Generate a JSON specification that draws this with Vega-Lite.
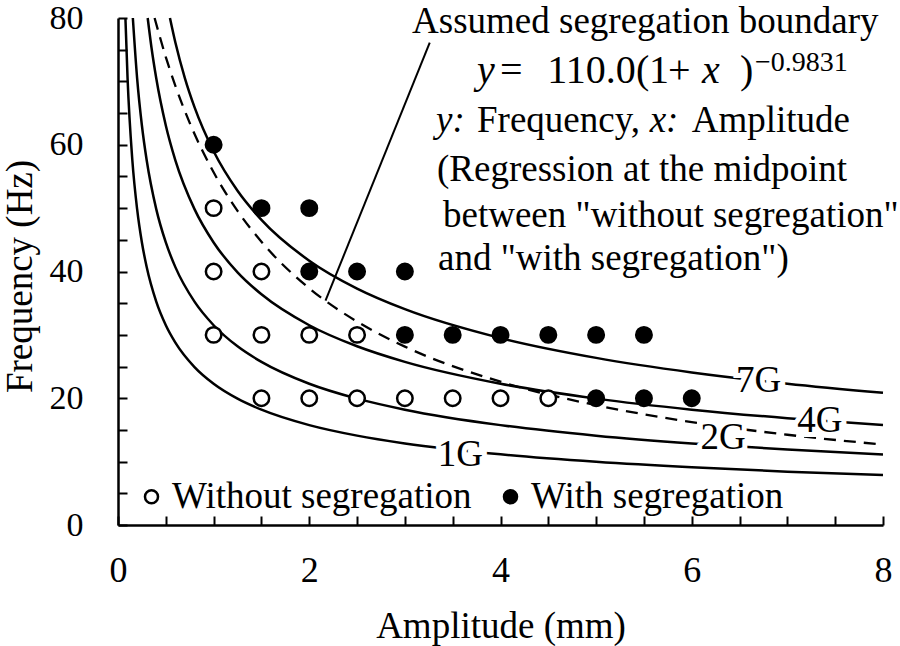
{
  "$schema": "https://vega.github.io/schema/vega-lite/v6.json",
  "width": 765,
  "height": 507,
  "autosize": {"type": "none"},
  "padding": {"left": 118, "top": 18, "right": 17, "bottom": 121},
  "background": "white",
  "config": {
    "font": "Liberation Serif",
    "view": {"stroke": null},
    "axis": {
      "grid": false,
      "domainColor": "black",
      "domainWidth": 2.5,
      "tickColor": "black",
      "tickWidth": 2,
      "labelColor": "black",
      "titleColor": "black",
      "labelFont": "Liberation Serif",
      "titleFont": "Liberation Serif",
      "labelFontSize": 36,
      "titleFontSize": 37,
      "titleFontWeight": "normal",
      "labelOverlap": false,
      "labelFlush": false
    },
    "text": {"font": "Liberation Serif", "color": "black"}
  },
  "datasets": {
    "gcurves": [
      {"curve": "1G", "x": 0.0776, "y": 80},
      {"curve": "1G", "x": 0.1, "y": 70.49},
      {"curve": "1G", "x": 0.15, "y": 57.55},
      {"curve": "1G", "x": 0.2, "y": 49.84},
      {"curve": "1G", "x": 0.25, "y": 44.58},
      {"curve": "1G", "x": 0.3, "y": 40.7},
      {"curve": "1G", "x": 0.4, "y": 35.24},
      {"curve": "1G", "x": 0.5, "y": 31.52},
      {"curve": "1G", "x": 0.6, "y": 28.78},
      {"curve": "1G", "x": 0.8, "y": 24.92},
      {"curve": "1G", "x": 1, "y": 22.29},
      {"curve": "1G", "x": 1.25, "y": 19.94},
      {"curve": "1G", "x": 1.5, "y": 18.2},
      {"curve": "1G", "x": 2, "y": 15.76},
      {"curve": "1G", "x": 2.5, "y": 14.1},
      {"curve": "1G", "x": 3, "y": 12.87},
      {"curve": "1G", "x": 4, "y": 11.15},
      {"curve": "1G", "x": 5, "y": 9.97},
      {"curve": "1G", "x": 6, "y": 9.1},
      {"curve": "1G", "x": 7, "y": 8.42},
      {"curve": "1G", "x": 8, "y": 7.88},
      {"curve": "2G", "x": 0.1552, "y": 80},
      {"curve": "2G", "x": 0.2, "y": 70.48},
      {"curve": "2G", "x": 0.25, "y": 63.04},
      {"curve": "2G", "x": 0.3, "y": 57.55},
      {"curve": "2G", "x": 0.4, "y": 49.84},
      {"curve": "2G", "x": 0.5, "y": 44.58},
      {"curve": "2G", "x": 0.6, "y": 40.69},
      {"curve": "2G", "x": 0.8, "y": 35.24},
      {"curve": "2G", "x": 1, "y": 31.52},
      {"curve": "2G", "x": 1.25, "y": 28.19},
      {"curve": "2G", "x": 1.5, "y": 25.74},
      {"curve": "2G", "x": 2, "y": 22.29},
      {"curve": "2G", "x": 2.5, "y": 19.94},
      {"curve": "2G", "x": 3, "y": 18.2},
      {"curve": "2G", "x": 4, "y": 15.76},
      {"curve": "2G", "x": 5, "y": 14.1},
      {"curve": "2G", "x": 6, "y": 12.87},
      {"curve": "2G", "x": 7, "y": 11.91},
      {"curve": "2G", "x": 8, "y": 11.14},
      {"curve": "4G", "x": 0.3105, "y": 80},
      {"curve": "4G", "x": 0.35, "y": 75.35},
      {"curve": "4G", "x": 0.4, "y": 70.49},
      {"curve": "4G", "x": 0.5, "y": 63.05},
      {"curve": "4G", "x": 0.6, "y": 57.55},
      {"curve": "4G", "x": 0.8, "y": 49.84},
      {"curve": "4G", "x": 1, "y": 44.58},
      {"curve": "4G", "x": 1.25, "y": 39.87},
      {"curve": "4G", "x": 1.5, "y": 36.4},
      {"curve": "4G", "x": 2, "y": 31.52},
      {"curve": "4G", "x": 2.5, "y": 28.2},
      {"curve": "4G", "x": 3, "y": 25.74},
      {"curve": "4G", "x": 4, "y": 22.29},
      {"curve": "4G", "x": 5, "y": 19.94},
      {"curve": "4G", "x": 6, "y": 18.2},
      {"curve": "4G", "x": 7, "y": 16.85},
      {"curve": "4G", "x": 8, "y": 15.76},
      {"curve": "7G", "x": 0.5433, "y": 80},
      {"curve": "7G", "x": 0.6, "y": 76.13},
      {"curve": "7G", "x": 0.7, "y": 70.48},
      {"curve": "7G", "x": 0.8, "y": 65.93},
      {"curve": "7G", "x": 1, "y": 58.97},
      {"curve": "7G", "x": 1.25, "y": 52.74},
      {"curve": "7G", "x": 1.5, "y": 48.15},
      {"curve": "7G", "x": 2, "y": 41.7},
      {"curve": "7G", "x": 2.5, "y": 37.3},
      {"curve": "7G", "x": 3, "y": 34.05},
      {"curve": "7G", "x": 4, "y": 29.49},
      {"curve": "7G", "x": 5, "y": 26.37},
      {"curve": "7G", "x": 6, "y": 24.07},
      {"curve": "7G", "x": 7, "y": 22.29},
      {"curve": "7G", "x": 8, "y": 20.85}
    ],
    "boundary": [
      {"x": 0.3826, "y": 80},
      {"x": 0.5, "y": 73.84},
      {"x": 0.6, "y": 69.3},
      {"x": 0.75, "y": 63.45},
      {"x": 1, "y": 55.65},
      {"x": 1.25, "y": 49.56},
      {"x": 1.5, "y": 44.69},
      {"x": 2, "y": 37.35},
      {"x": 2.5, "y": 32.1},
      {"x": 3, "y": 28.15},
      {"x": 4, "y": 22.61},
      {"x": 5, "y": 18.9},
      {"x": 6, "y": 16.24},
      {"x": 7, "y": 14.24},
      {"x": 8, "y": 12.69}
    ],
    "points": [
      {"status": "Without segregation", "x": 1, "y": 30},
      {"status": "Without segregation", "x": 1, "y": 40},
      {"status": "Without segregation", "x": 1, "y": 50},
      {"status": "Without segregation", "x": 1.5, "y": 20},
      {"status": "Without segregation", "x": 1.5, "y": 30},
      {"status": "Without segregation", "x": 1.5, "y": 40},
      {"status": "Without segregation", "x": 2, "y": 20},
      {"status": "Without segregation", "x": 2, "y": 30},
      {"status": "Without segregation", "x": 2.5, "y": 20},
      {"status": "Without segregation", "x": 2.5, "y": 30},
      {"status": "Without segregation", "x": 3, "y": 20},
      {"status": "Without segregation", "x": 3.5, "y": 20},
      {"status": "Without segregation", "x": 4, "y": 20},
      {"status": "Without segregation", "x": 4.5, "y": 20},
      {"status": "With segregation", "x": 1, "y": 60},
      {"status": "With segregation", "x": 1.5, "y": 50},
      {"status": "With segregation", "x": 2, "y": 40},
      {"status": "With segregation", "x": 2, "y": 50},
      {"status": "With segregation", "x": 2.5, "y": 40},
      {"status": "With segregation", "x": 3, "y": 30},
      {"status": "With segregation", "x": 3, "y": 40},
      {"status": "With segregation", "x": 3.5, "y": 30},
      {"status": "With segregation", "x": 4, "y": 30},
      {"status": "With segregation", "x": 4.5, "y": 30},
      {"status": "With segregation", "x": 5, "y": 20},
      {"status": "With segregation", "x": 5, "y": 30},
      {"status": "With segregation", "x": 5.5, "y": 20},
      {"status": "With segregation", "x": 5.5, "y": 30},
      {"status": "With segregation", "x": 6, "y": 20}
    ],
    "glabels": [
      {"text": "7G", "x": 6.698, "y": 22.68},
      {"text": "4G", "x": 7.34, "y": 16.38},
      {"text": "2G", "x": 6.327, "y": 13.7},
      {"text": "1G", "x": 3.58, "y": 11.02}
    ],
    "leader": [
      {"x": 3.26, "y": 76.1, "x2": 2.17, "y2": 35.4}
    ],
    "notes": [
      {"text": "Assumed segregation boundary", "x": 3.075, "y": 77.64},
      {"text": "Frequency,", "x": 3.754, "y": 61.94},
      {"text": "Amplitude", "x": 6.0, "y": 61.94},
      {"text": "(Regression at the midpoint", "x": 3.336, "y": 54.33},
      {"text": "between \"without segregation\"", "x": 3.399, "y": 46.98},
      {"text": "and \"with segregation\")", "x": 3.346, "y": 40.16}
    ],
    "notesItalic": [
      {"text": "y:", "x": 3.325, "y": 61.94},
      {"text": "x:", "x": 5.56, "y": 61.94}
    ],
    "eqItalic": [
      {"text": "y", "x": 3.754, "y": 69.76},
      {"text": "x", "x": 6.107, "y": 69.76}
    ],
    "eqRegular": [
      {"text": "=", "x": 3.995, "y": 69.76},
      {"text": "110.0", "x": 4.49, "y": 69.76},
      {"text": "(", "x": 5.417, "y": 69.76},
      {"text": "1", "x": 5.553, "y": 69.76},
      {"text": "+", "x": 5.752, "y": 69.76},
      {"text": ")", "x": 6.505, "y": 69.76}
    ],
    "eqExponent": [
      {"text": "−0.9831", "x": 6.662, "y": 71.65}
    ]
  },
  "encoding": {
    "x": {
      "field": "x",
      "type": "quantitative",
      "scale": {"domain": [0, 8], "nice": false, "zero": false},
      "axis": {
        "title": "Amplitude (mm)",
        "values": [0, 0.5, 1, 1.5, 2, 2.5, 3, 3.5, 4, 4.5, 5, 5.5, 6, 6.5, 7, 7.5, 8],
        "format": "~g",
        "labelExpr": "datum.value % 2 === 0 ? datum.label : ''",
        "tickSize": -9,
        "labelPadding": 37,
        "titleY": 112,
        "titleBaseline": "alphabetic"
      }
    },
    "y": {
      "field": "y",
      "type": "quantitative",
      "scale": {"domain": [0, 80], "nice": false},
      "axis": {
        "title": "Frequency (Hz)",
        "values": [0, 5, 10, 15, 20, 25, 30, 35, 40, 45, 50, 55, 60, 65, 70, 75, 80],
        "format": "~g",
        "labelExpr": "datum.value % 20 === 0 ? datum.label : ''",
        "labelFontSize": 34,
        "tickSize": -9,
        "labelPadding": 44,
        "titleX": -98,
        "titleY": 258,
        "titleBaseline": "middle"
      }
    }
  },
  "layer": [
    {
      "data": {"name": "gcurves"},
      "mark": {"type": "line", "color": "black", "strokeWidth": 2.5, "interpolate": "monotone"},
      "encoding": {"detail": {"field": "curve", "type": "nominal"}}
    },
    {
      "data": {"name": "boundary"},
      "mark": {"type": "line", "color": "black", "strokeWidth": 2.3, "strokeDash": [12, 8], "interpolate": "monotone"},
      "encoding": {}
    },
    {
      "data": {"name": "leader"},
      "mark": {"type": "rule", "color": "black", "strokeWidth": 2},
      "encoding": {
        "x2": {"field": "x2"},
        "y2": {"field": "y2"}
      }
    },
    {
      "data": {"name": "points"},
      "mark": {"type": "point", "shape": "circle", "filled": true, "stroke": "black", "strokeWidth": 2.5, "size": 240, "opacity": 1},
      "encoding": {
        "fill": {
          "field": "status",
          "type": "nominal",
          "scale": {"domain": ["Without segregation", "With segregation"], "range": ["white", "black"]},
          "legend": {
            "orient": "none",
            "legendX": 15,
            "legendY": 460,
            "direction": "horizontal",
            "title": null,
            "padding": 0,
            "labelFont": "Liberation Serif",
            "labelFontSize": 37,
            "labelColor": "black",
            "labelLimit": 500,
            "labelOffset": 2,
            "columnPadding": 20,
            "symbolType": "circle",
            "symbolSize": 170,
            "symbolStrokeColor": "black",
            "symbolStrokeWidth": 2.5
          }
        }
      }
    },
    {
      "data": {"name": "glabels"},
      "mark": {"type": "text", "fontSize": 37, "align": "center", "baseline": "middle", "stroke": "white", "strokeWidth": 10, "fill": "white"},
      "encoding": {"text": {"field": "text"}}
    },
    {
      "data": {"name": "glabels"},
      "mark": {"type": "text", "fontSize": 37, "align": "center", "baseline": "middle", "color": "black"},
      "encoding": {"text": {"field": "text"}}
    },
    {
      "data": {"name": "notes"},
      "mark": {"type": "text", "fontSize": 37, "align": "left", "baseline": "alphabetic"},
      "encoding": {"text": {"field": "text"}}
    },
    {
      "data": {"name": "notesItalic"},
      "mark": {"type": "text", "fontSize": 37, "fontStyle": "italic", "align": "left", "baseline": "alphabetic"},
      "encoding": {"text": {"field": "text"}}
    },
    {
      "data": {"name": "eqItalic"},
      "mark": {"type": "text", "fontSize": 40, "fontStyle": "italic", "align": "left", "baseline": "alphabetic"},
      "encoding": {"text": {"field": "text"}}
    },
    {
      "data": {"name": "eqRegular"},
      "mark": {"type": "text", "fontSize": 40, "align": "left", "baseline": "alphabetic"},
      "encoding": {"text": {"field": "text"}}
    },
    {
      "data": {"name": "eqExponent"},
      "mark": {"type": "text", "fontSize": 28, "align": "left", "baseline": "alphabetic"},
      "encoding": {"text": {"field": "text"}}
    }
  ]
}
